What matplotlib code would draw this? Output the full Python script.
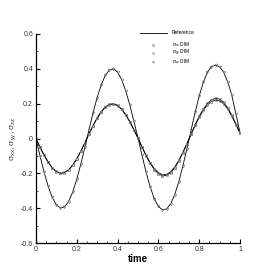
import numpy as np
import matplotlib
matplotlib.use("Agg")
import matplotlib.pyplot as plt
from matplotlib.ticker import MultipleLocator

plt.rcParams['font.family'] = ['Liberation Sans', 'DejaVu Sans']
plt.rcParams['mathtext.fontset'] = 'custom'
plt.rcParams['mathtext.rm'] = 'Liberation Sans'
plt.rcParams['mathtext.it'] = 'Liberation Sans'

# time grid (step 0.02)
time = np.round(np.arange(0, 1.0001, 0.02), 2)

sigma_xx = [0.000, -0.050, -0.096, -0.137, -0.169, -0.190, -0.200, -0.196, -0.181, -0.154,
            -0.118, -0.074, -0.025, 0.025, 0.074, 0.118, 0.154, 0.181, 0.196, 0.200,
            0.190, 0.169, 0.137, 0.096, 0.050, 0.002, -0.050, -0.100, -0.143, -0.178,
            -0.202, -0.214, -0.212, -0.196, -0.168, -0.129, -0.082, -0.030, 0.024, 0.078,
            0.127, 0.169, 0.201, 0.222, 0.230, 0.226, 0.208, 0.176, 0.133, 0.083, 0.030]

sigma_yy = [0.000, -0.049, -0.095, -0.135, -0.167, -0.188, -0.198, -0.195, -0.180, -0.153,
            -0.117, -0.073, -0.024, 0.026, 0.074, 0.117, 0.152, 0.179, 0.194, 0.198,
            0.189, 0.168, 0.136, 0.096, 0.051, 0.003, -0.048, -0.097, -0.139, -0.173,
            -0.196, -0.208, -0.206, -0.191, -0.164, -0.126, -0.080, -0.029, 0.023, 0.075,
            0.122, 0.162, 0.193, 0.212, 0.220, 0.216, 0.199, 0.169, 0.128, 0.080, 0.030]

sigma_zz = [0.000, -0.099, -0.193, -0.274, -0.338, -0.380, -0.399, -0.393, -0.362, -0.308,
            -0.235, -0.147, -0.050, 0.050, 0.147, 0.235, 0.308, 0.362, 0.393, 0.400,
            0.381, 0.338, 0.274, 0.193, 0.099, 0.005, -0.097, -0.194, -0.279, -0.345,
            -0.390, -0.409, -0.405, -0.375, -0.322, -0.248, -0.158, -0.058, 0.046, 0.150,
            0.244, 0.322, 0.380, 0.413, 0.420, 0.412, 0.380, 0.324, 0.247, 0.140, 0.035]

fig = plt.figure(figsize=(2.74, 2.74), dpi=100)
ax = fig.add_axes([0.131, 0.113, 0.745, 0.763])

grey = '#7a7a7a'
ref_kw = dict(color='black', linewidth=0.6)
ref_line, = ax.plot(time, sigma_xx, label='Reference', **ref_kw)
ax.plot(time, sigma_yy, **ref_kw)
ax.plot(time, sigma_zz, **ref_kw)

mk = dict(linestyle='none', markerfacecolor='none', markeredgecolor=grey, markeredgewidth=0.45)
h_xx, = ax.plot(time, sigma_xx, marker='s', markersize=1.7, label=r'$\sigma_{xx}$ DIM', **mk)
h_yy, = ax.plot(time, sigma_yy, marker='o', markersize=1.7, label=r'$\sigma_{yy}$ DIM', **mk)
h_zz, = ax.plot(time, sigma_zz, marker='v', markersize=1.9, label=r'$\sigma_{zz}$ DIM', **mk)

ax.set_xlim(0, 1)
ax.set_ylim(-0.6, 0.6)
ax.set_xticks([0, 0.2, 0.4, 0.6, 0.8, 1.0])
ax.set_xticklabels(['0', '0.2', '0.4', '0.6', '0.8', '1'])
ax.set_yticks([-0.6, -0.4, -0.2, 0, 0.2, 0.4, 0.6])
ax.set_yticklabels(['-0.6', '-0.4', '-0.2', '0', '0.2', '0.4', '0.6'])
ax.xaxis.set_minor_locator(MultipleLocator(0.05))
ax.yaxis.set_minor_locator(MultipleLocator(0.1))

ax.tick_params(which='both', direction='in', labelsize=5, labelcolor='#333333', pad=2)
ax.tick_params(which='major', length=3, width=0.8)
ax.tick_params(which='minor', length=1.5, width=0.5)
for s in ['top', 'right']:
    ax.spines[s].set_visible(False)
for s in ['left', 'bottom']:
    ax.spines[s].set_linewidth(0.9)

ax.set_xlabel('time', fontsize=7, fontweight='bold', labelpad=1)
ax.set_ylabel(r'$\sigma_{xx}$, $\sigma_{yy}$, $\sigma_{zz}$', fontsize=6, labelpad=2, color='#333333')

leg_kw = dict(fontsize=3.5, frameon=False, handlelength=5.5, handletextpad=1.0,
              borderpad=0, borderaxespad=0, numpoints=1, markerscale=0.7)
leg1 = ax.legend(handles=[ref_line], loc='center left', bbox_to_anchor=(0.51, 1.006), **leg_kw)
ax.add_artist(leg1)
ax.legend(handles=[h_xx, h_yy, h_zz], loc='upper left', bbox_to_anchor=(0.51, 0.97),
          labelspacing=-0.2, **leg_kw)

fig.savefig('out.png', dpi=100)
